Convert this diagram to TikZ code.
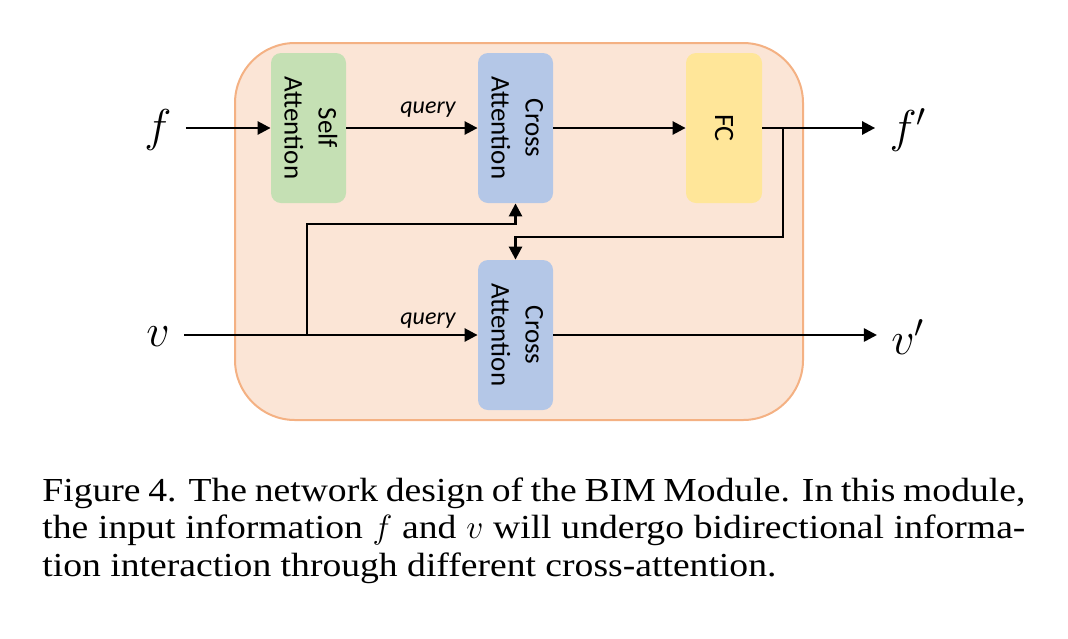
\RequirePackage{fix-cm}
\documentclass[tikz,border=0pt]{standalone}
\usepackage{fontspec}
\setmainfont{Liberation Serif}[FakeStretch=1.12]
\newfontfamily\diagfont{Carlito}
\usepackage{graphicx}
\usetikzlibrary{arrows.meta, positioning, calc}
\definecolor{peachfill}{HTML}{FBE5D6}
\definecolor{peachline}{HTML}{F4B183}
\definecolor{selfgreen}{HTML}{C5E0B4}
\definecolor{crossblue}{HTML}{B4C7E7}
\definecolor{fcyellow}{HTML}{FFE699}
\newcommand{\rottext}[1]{\rotatebox[origin=c]{-90}{\begin{tabular}{@{}c@{}}#1\end{tabular}}}

\begin{document}
\begin{tikzpicture}[x=0.5pt, y=-0.5pt,
  block/.style={rounded corners=5pt, minimum width=37.5pt, minimum height=75pt, inner sep=0pt, font=\diagfont\fontsize{13.5}{17}\selectfont},
  flow/.style={line width=1.3pt, -{Triangle[length=6.5pt, width=6.5pt]}},
  sym/.style={font=\fontsize{23}{27}\selectfont, inner xsep=7pt, inner ysep=1pt},
  qlabel/.style={font=\diagfont\itshape\fontsize{12}{14}\selectfont, inner sep=0pt}]
  \useasboundingbox (0,0) rectangle (1068,638);

  % ===== 模块外框 =====
  \draw[fill=peachfill, draw=peachline, line width=1pt, rounded corners=30pt] (235,43) rectangle (803,420);

  % ===== 模块 =====
  \node[block, fill=selfgreen] (sa) at (308.5,128) {\rottext{Self\\Attention}};
  \node[block, fill=crossblue] (ca1) at (515.5,128) {\rottext{Cross\\Attention}};
  \node[block, fill=fcyellow, minimum width=38pt] (fc) at (724,128) {\rotatebox[origin=c]{-90}{\fontsize{14}{16}\selectfont FC}};
  \node[block, fill=crossblue] (ca2) at (515.5,335) {\rottext{Cross\\Attention}};

  % 输入输出
  \node[sym] (fin) at (158,130) {$f$};
  \node[sym] (vin) at (158,337) {$v$};
  \node[sym] (fout) at (908,130) {$f'$};
  \node[sym] (vout) at (908,337) {$v'$};

  % ===== 连线 =====
  \draw[flow] (fin.east |- sa.west) -- (sa.west);
  \draw[flow] (sa.east) -- (ca1.west);
  \draw[flow] (ca1.east) -- (fc.west);
  \draw[flow] (fc.east) -- (fout.west |- fc.east);
  \draw[flow] (vin.east |- ca2.west) -- (ca2.west);
  \draw[flow] (ca2.east) -- (vout.west |- ca2.east);

  % 交叉分支
  \coordinate (fsplit) at (783,128);
  \coordinate (vsplit) at (307,335);
  \draw[flow] (fsplit) |- (ca2.north |- 0,237) -- (ca2.north);
  \draw[flow] (vsplit) |- (ca1.south |- 0,224) -- (ca1.south);

  % query 标注
  \node[qlabel] (q1) at (428,110) {query};
  \node[qlabel] (q2) at (428,321) {query};

  % ===== 图注 =====
  \node[anchor=north west, inner sep=0pt, text width=491.5pt, align=justify, font=\fontsize{16.8}{18.8}\selectfont] (cap) at (42,477)
    {Figure 4. The network design of the BIM Module. In this module,\linebreak the input information $f$ and $v$ will undergo bidirectional informa-\linebreak tion interaction through different cross-attention.};
\end{tikzpicture}
\end{document}
